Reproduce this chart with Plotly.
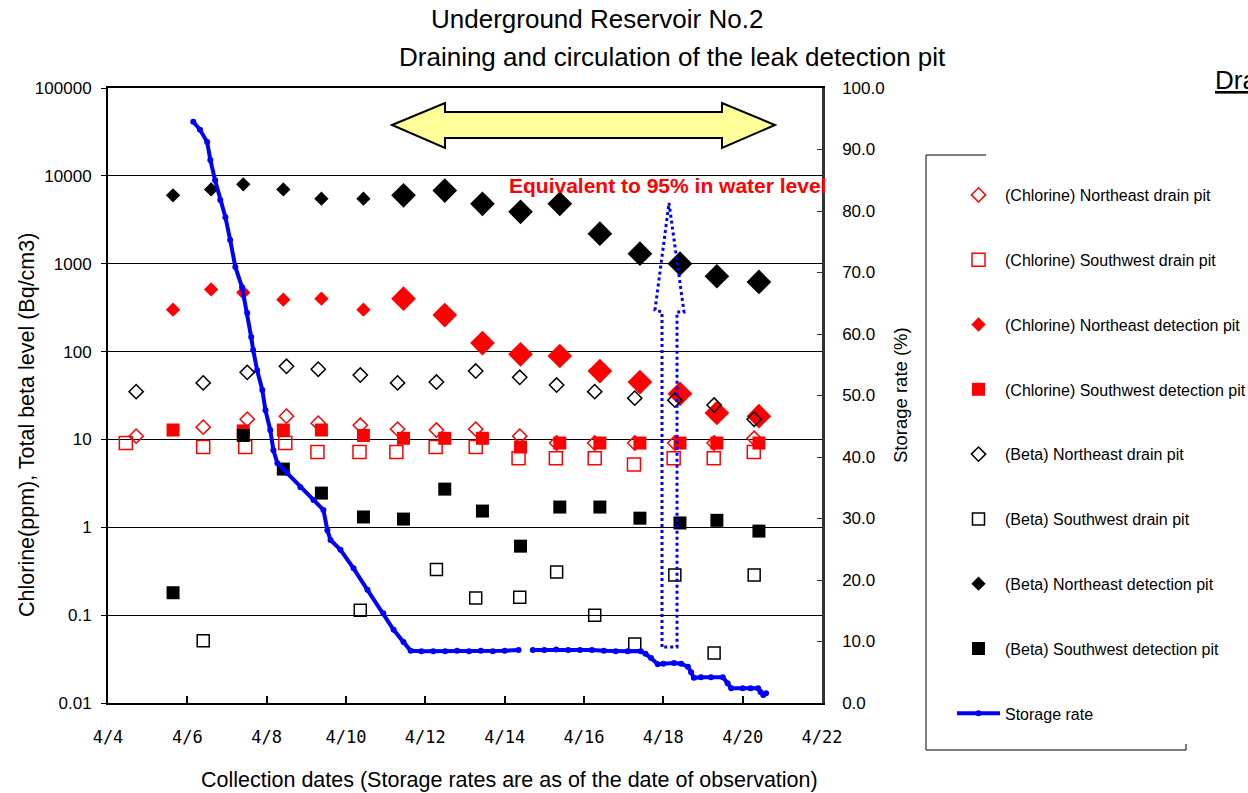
import plotly.graph_objects as go
import pandas as pd

# ---------------- data (April 2013, day-of-month with fraction) ----------------
det_days = [5.64, 6.60, 7.41, 8.42, 9.38, 10.44, 11.45, 12.49, 13.44, 14.40, 15.39, 16.40, 17.41, 18.42, 19.35, 20.41]
beta_ne_det = [6000, 7000, 8000, 7000, 5500, 5500, 6000, 6800, 4800, 3900, 4800, 2200, 1300, 1000, 720, 620]
cl_ne_det = [300, 510, 470, 390, 400, 300, 400, 260, 125, 93, 89, 60, 45, 33, 20, 18.4]

det_sq_days = [5.64, 7.41, 8.42, 9.38, 10.44, 11.45, 12.49, 13.44, 14.40, 15.39, 16.40, 17.41, 18.42, 19.35, 20.41]
cl_sw_det = [12.8, 12.5, 12.8, 12.8, 11.1, 10.3, 10.3, 10.3, 8.2, 9.1, 9.1, 9.1, 9.1, 9.1, 9.1]
beta_sw_det = [0.18, 11.1, 4.6, 2.45, 1.31, 1.24, 2.72, 1.53, 0.61, 1.70, 1.70, 1.27, 1.12, 1.2, 0.905]

drain_days = [4.71, 6.40, 7.51, 8.50, 9.30, 10.36, 11.30, 12.28, 13.27, 14.38, 15.31, 16.27, 17.28, 18.29, 19.28, 20.29]
cl_ne_drain = [10.9, 13.8, 17, 18.4, 15.3, 14.5, 13.1, 12.8, 13.1, 10.9, 9.1, 9.1, 9.1, 9.1, 9.1, 10.3]
beta_ne_drain = [35, 44, 58, 68, 63, 54, 44, 45, 60, 51, 41.6, 35, 29.5, 28, 24.6, 17]

cl_sw_drain_days = [4.45, 6.40, 7.46, 8.47, 9.28, 10.34, 11.27, 12.26, 13.27, 14.35, 15.29, 16.27, 17.26, 18.26, 19.27, 20.28]
cl_sw_drain = [9.1, 8.2, 8.2, 9.1, 7.2, 7.2, 7.2, 8.2, 8.2, 6.1, 6.1, 6.1, 5.2, 6.1, 6.1, 7.2]

beta_sw_drain_days = [6.40, 10.36, 12.28, 13.27, 14.38, 15.31, 16.27, 17.28, 18.29, 19.28, 20.29]
beta_sw_drain = [0.051, 0.114, 0.33, 0.157, 0.16, 0.31, 0.10, 0.047, 0.286, 0.037, 0.286]

storage_days = [6.15, 6.32, 6.50, 6.58, 6.70, 6.83, 6.96, 7.08, 7.21, 7.38, 7.51, 7.61, 7.66, 7.76,
                7.89, 7.97, 8.09, 8.17, 8.27, 8.52, 8.85, 9.18, 9.43, 9.53, 9.61, 9.86, 10.19, 10.54,
                10.94, 11.20, 11.45, 11.63, 11.9, 12.2, 12.5, 12.8, 13.1, 13.4, 13.7, 14.0, 14.35,
                14.5, 14.71, 15.0, 15.3, 15.6, 15.9, 16.2, 16.5, 16.8, 17.1, 17.43, 17.55, 17.69,
                17.86, 18.0, 18.27, 18.45, 18.62, 18.70, 18.77, 18.95, 19.2, 19.5, 19.62, 19.71,
                20.0, 20.2, 20.39, 20.45, 20.52, 20.59]
storage_rate = [94.5, 93.2, 91.2, 88.3, 85.0, 81.8, 79.0, 75.3, 70.9, 67.6, 63.4, 59.5, 57.4, 54.1,
                50.9, 47.6, 44.4, 41.1, 39.0, 37.4, 35.1, 33.0, 31.4, 28.1, 26.5, 24.9, 21.9, 18.4,
                14.6, 11.9, 9.9, 8.5, 8.4, 8.4, 8.4, 8.5, 8.4, 8.5, 8.4, 8.5, 8.6,
                None, 8.6, 8.6, 8.7, 8.6, 8.6, 8.6, 8.5, 8.4, 8.4, 8.4, 8.0, 7.3,
                6.3, 6.4, 6.5, 6.4, 5.9, 5.0, 4.1, 4.2, 4.2, 4.2, 3.2, 2.4,
                2.4, 2.4, 2.4, 1.8, 1.3, 1.6]

tick_days = [4, 6, 8, 10, 12, 14, 16, 18, 20, 22]
tick_labels = ["4/4", "4/6", "4/8", "4/10", "4/12", "4/14", "4/16", "4/18", "4/20", "4/22"]
left_ticks = [0.01, 0.1, 1, 10, 100, 1000, 10000, 100000]
left_tick_labels = ["0.01", "0.1", "1", "10", "100", "1000", "10000", "100000"]
right_ticks = [0, 10, 20, 30, 40, 50, 60, 70, 80, 90, 100]

names = ["(Chlorine) Northeast drain pit", "(Chlorine) Southwest drain pit",
         "(Chlorine) Northeast detection pit", "(Chlorine) Southwest detection pit",
         "(Beta) Northeast drain pit", "(Beta) Southwest drain pit",
         "(Beta) Northeast detection pit", "(Beta) Southwest detection pit", "Storage rate"]

# ---------------- helpers ----------------
BASE = pd.Timestamp("2013-04-01")


def dt(days):
    return [BASE + pd.Timedelta(days=d - 1) for d in days]


L, R, T, B = 108, 822, 88, 703


def px(x):
    return (x - L) / (R - L)


def py(y):
    return (B - y) / (B - T)


LARGE_FROM = 6
RED = "#FF0000"
FONT = "Arial, Liberation Sans, sans-serif"

fig = go.Figure()


def add(days, vals, name, symbol, color, size, group, showlegend=True, lw=1.5):
    fig.add_trace(go.Scatter(
        x=dt(days), y=vals, mode="markers", name=name, legendgroup=group,
        showlegend=showlegend,
        marker=dict(symbol=symbol, color=color, size=size,
                    line=dict(color=color, width=lw if "open" in symbol else 0)),
        yaxis="y"))


add(drain_days, cl_ne_drain, names[0], "diamond-open", RED, 11, "g0")
add(cl_sw_drain_days, cl_sw_drain, names[1], "square-open", RED, 13, "g1")
add(det_days[:LARGE_FROM], cl_ne_det[:LARGE_FROM], names[2], "diamond", RED, 11, "g2")
add(det_days[LARGE_FROM:], cl_ne_det[LARGE_FROM:], names[2], "diamond", RED, 19, "g2", showlegend=False)
add(det_sq_days, cl_sw_det, names[3], "square", RED, 13, "g3")
add(drain_days, beta_ne_drain, names[4], "diamond-open", "#000000", 11, "g4")
add(beta_sw_drain_days, beta_sw_drain, names[5], "square-open", "#000000", 12, "g5")
add(det_days[:LARGE_FROM], beta_ne_det[:LARGE_FROM], names[6], "diamond", "#000000", 11, "g6")
add(det_days[LARGE_FROM:], beta_ne_det[LARGE_FROM:], names[6], "diamond", "#000000", 19, "g6", showlegend=False)
add(det_sq_days, beta_sw_det, names[7], "square", "#000000", 13, "g7")

storage_x = [BASE + pd.Timedelta(days=d - 1) for d in storage_days]
fig.add_trace(go.Scatter(
    x=storage_x, y=storage_rate, mode="lines+markers", name=names[8], legendgroup="g8",
    connectgaps=False,
    line=dict(color="#0000FF", width=4), marker=dict(color="#0000FF", size=6),
    yaxis="y2"))

# ---------------- decorations ----------------
shapes = []
# yellow double arrow
pts = [(392, 125), (445, 103), (445, 112), (722, 112), (722, 103), (775, 125),
       (722, 148), (722, 138), (445, 138), (445, 148)]
path = "M " + " L ".join(f"{px(a):.5f},{py(b):.5f}" for a, b in pts) + " Z"
shapes.append(dict(type="path", xref="paper", yref="paper", path=path,
                   fillcolor="#FFFF99", line=dict(color="#000000", width=2)))
# blue dotted arrow
pts2 = [(662, 647), (662, 312), (655, 310), (669, 203), (684, 312), (677, 312), (677, 647)]
path2 = "M " + " L ".join(f"{px(a):.5f},{py(b):.5f}" for a, b in pts2) + " Z"
shapes.append(dict(type="path", xref="paper", yref="paper", path=path2,
                   line=dict(color="#0000FF", width=3, dash="dot")))
# partial legend frame
for (x0, y0, x1, y1) in [(926, 155, 926, 750), (926, 155, 986, 155),
                         (926, 750, 1186, 750), (1186, 744, 1186, 750)]:
    shapes.append(dict(type="line", xref="paper", yref="paper",
                       x0=px(x0), y0=py(y0), x1=px(x1), y1=py(y1),
                       line=dict(color="#000000", width=1)))

annotations = [
    dict(text="Underground Reservoir No.2", x=px(597), y=py(19), xref="paper", yref="paper",
         showarrow=False, xanchor="center", yanchor="middle", font=dict(size=26, family=FONT, color="#000")),
    dict(text="Draining and circulation of the leak detection pit", x=px(672), y=py(57),
         xref="paper", yref="paper", showarrow=False, xanchor="center", yanchor="middle",
         font=dict(size=26, family=FONT, color="#000")),
    dict(text="<u>Drain</u>", x=px(1213), y=py(80), xref="paper", yref="paper",
         showarrow=False, xanchor="left", yanchor="middle", font=dict(size=26, family=FONT, color="#000")),
    dict(text="Equivalent to 95% in water level", x=px(667), y=py(186), xref="paper", yref="paper",
         showarrow=False, xanchor="center", yanchor="middle",
         font=dict(size=21, family=FONT, color=RED, weight="bold")),
    dict(text="Chlorine(ppm), Total beta level (Bq/cm3)", x=px(27), y=py(425), xref="paper",
         yref="paper", showarrow=False, textangle=-90, xanchor="center", yanchor="middle",
         font=dict(size=21.5, family=FONT, color="#000")),
    dict(text="Storage rate (%)", x=px(900), y=py(395), xref="paper", yref="paper",
         showarrow=False, textangle=-90, xanchor="center", yanchor="middle",
         font=dict(size=18.5, family=FONT, color="#000")),
    dict(text="Collection dates (Storage rates are as of the date of observation)", x=px(509),
         y=py(780), xref="paper", yref="paper", showarrow=False, xanchor="center", yanchor="middle",
         font=dict(size=21.5, family=FONT, color="#000")),
]

fig.update_layout(
    width=1248, height=793,
    margin=dict(l=L, r=1248 - R, t=T, b=793 - B, autoexpand=False),
    paper_bgcolor="white", plot_bgcolor="white",
    font=dict(family=FONT, color="#000"),
    shapes=shapes, annotations=annotations,
    xaxis=dict(type="date", range=[dt([4])[0], dt([22])[0]],
               tickvals=dt(tick_days), ticktext=tick_labels,
               ticks="inside", ticklen=7, tickwidth=1.5, tickcolor="#000",
               showline=True, linewidth=2, linecolor="#000", mirror=True,
               showgrid=False, zeroline=False, ticklabelstandoff=18,
               tickfont=dict(family="DejaVu Sans Mono, monospace", size=17, color="#000")),
    yaxis=dict(type="log", range=[-2, 5], tickvals=left_ticks, ticktext=left_tick_labels,
               ticks="outside", ticklen=5, tickcolor="#000",
               showline=True, linewidth=2, linecolor="#000",
               showgrid=True, gridcolor="#000", gridwidth=1, zeroline=False,
               ticklabelstandoff=6, tickfont=dict(family=FONT, size=17, color="#000")),
    yaxis2=dict(overlaying="y", side="right", range=[0, 100], tickvals=right_ticks,
                tickformat=".1f", ticks="inside", ticklen=5, tickcolor="#333",
                showline=True, linewidth=2.5, linecolor="#333", showgrid=False, zeroline=False,
                ticklabelstandoff=14, tickfont=dict(family=FONT, size=17, color="#000")),
    legend=dict(x=px(952), y=py(178), xanchor="left", yanchor="top",
                traceorder="grouped", tracegroupgap=41, itemwidth=43,
                bgcolor="rgba(0,0,0,0)", borderwidth=0,
                font=dict(family=FONT, size=16, color="#000")),
    showlegend=True,
)

fig.write_html("out.html", post_script="document.body.style.margin='0';",
               config={"displayModeBar": False})
